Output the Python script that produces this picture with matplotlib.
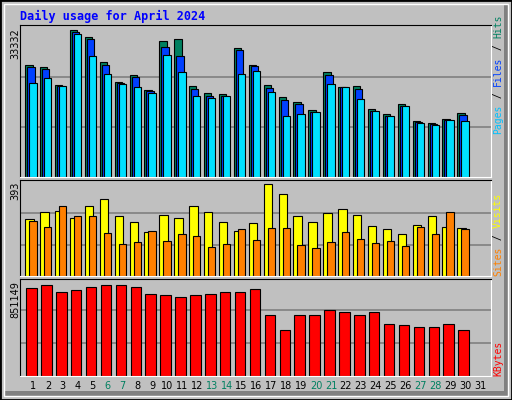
import matplotlib
matplotlib.use("Agg")
import matplotlib.pyplot as plt
from matplotlib.patches import Rectangle

days = list(range(1, 32))
hits = [24980,24530,20530,32750,31200,25490,21040,22750,19260,30310,30750,20310,18750,18530,28750,24980,
        20530,17860,16750,14980,23260,20090,20310,15200,14090,16310,12530,12090,12980,14310]
files = [24530,24090,20310,32310,30600,24820,20980,22150,19110,28970,26970,19640,18090,18090,28310,24750,
         19860,17200,16310,14530,22750,20090,19640,14750,13640,15860,12310,11860,12750,13860]
pages = [20980,22090,20310,31710,26820,22980,20750,20090,18750,27200,23260,18090,17640,18090,22980,23640,
         18980,13640,14090,14530,20750,20090,17420,14750,13640,15860,12090,11640,12750,12530]
visits = [238,266,270,241,291,321,250,224,183,254,241,291,266,224,187,220,383,341,250,224,262,279,254,208,
          195,174,212,250,204,199]
sites = [229,204,291,250,250,178,132,141,187,145,174,166,120,132,195,149,199,199,128,116,141,183,153,137,
         145,124,204,174,266,195]
kbytes = [748000,782000,714000,731000,765000,782000,774000,765000,697000,688000,679000,688000,697000,714000,
          722000,740000,524000,395000,516000,524000,567000,544000,524000,550000,447000,430000,413000,413000,
          447000,395000]
weekend = [6,7,13,14,20,21,27,28]
max_hits, max_visits, max_kb = 33332, 393, 851149

W, H = 512, 400
fig = plt.figure(figsize=(5.12, 4.0), dpi=100)
fig.patch.set_facecolor("#c0c0c0")
# frame
fig.add_artist(Rectangle((0, 0), 1, 1, transform=fig.transFigure, fill=False, ec="black", lw=2))
fig.add_artist(Rectangle((504/W, 4/H), 5/W, 392/H, transform=fig.transFigure, fc="#808080", ec="none"))
fig.add_artist(Rectangle((4/W, 4/H), 505/W, 5/H, transform=fig.transFigure, fc="#808080", ec="none"))
fig.add_artist(Rectangle((4/W, 4/H), 504/W, 392/H, transform=fig.transFigure, fill=False, ec="white", lw=1))

def mkax(top, bot):
    ax = fig.add_axes([20/W, 1-bot/H, 471/W, (bot-top)/H])
    ax.set_facecolor("#c0c0c0")
    ax.set_xlim(0.128, 31.74)
    ax.set_xticks([]); ax.set_yticks([])
    for s in ax.spines.values():
        s.set_color("black")
    ax.spines["right"].set_color("white"); ax.spines["bottom"].set_color("white")
    return ax

d = days[:30]
ax1 = mkax(25, 177)
top1 = max_hits*152/150
ax1.set_ylim(0, top1)
for g in (1/3, 2/3):
    ax1.axhline(max_hits*g, color="#808080", lw=1.2, zorder=0)
ax1.bar([x-0.517 for x in d], hits, width=0.49, align="edge", color="#008060", ec="black", lw=0.8)
ax1.bar([x-0.383 for x in d], files, width=0.49, align="edge", color="#0040ff", ec="black", lw=0.8)
ax1.bar([x-0.248 for x in d], pages, width=0.49, align="edge", color="#00e0ff", ec="black", lw=0.8)

ax2 = mkax(180, 276)
ax2.set_ylim(0, max_visits*96/94)
for g in (1/3, 2/3):
    ax2.axhline(max_visits*g, color="#808080", lw=1.2, zorder=0)
ax2.bar([x-0.517 for x in d], visits, width=0.56, align="edge", color="#ffff00", ec="black", lw=0.8)
ax2.bar([x-0.248 for x in d], sites, width=0.49, align="edge", color="#ff8000", ec="black", lw=0.8)

ax3 = mkax(279, 375.5)
ax3.set_ylim(0, max_kb*96.5/99)
for g in (1/3, 2/3):
    ax3.axhline(max_kb*g, color="#808080", lw=1.2, zorder=0)
ax3.bar([x-0.45 for x in d], kbytes, width=0.70, align="edge", color="#ff0000", ec="black", lw=0.8)

fs = 7
fig.text(20/W, 1-16/H, "Daily usage for April 2024", color="#0000ff", family="DejaVu Sans Mono",
         weight="bold", fontsize=8.5, va="center", ha="left")
fig.text(15/W, 1-28/H, str(max_hits), rotation=90, ha="center", va="top", fontsize=fs)
fig.text(15/W, 1-182/H, str(max_visits), rotation=90, ha="center", va="top", fontsize=fs)
fig.text(15/W, 1-281/H, str(max_kb), rotation=90, ha="center", va="top", fontsize=fs)

def rlabel(parts, ybot):
    y = ybot
    for txt, col in parts:
        t = fig.text(498/W, 1-y/H, txt, rotation=90, ha="center", va="bottom", fontsize=fs,
                     color=col, family="DejaVu Sans Mono")
        y -= len(txt)*6.0
rlabel([("Pages", "#00c0ff"), (" / ", "black"), ("Files", "#0040ff"), (" / ", "black"), ("Hits", "#008060")], 134)
rlabel([("Sites", "#ff8000"), (" / ", "black"), ("Visits", "#ffff00")], 276)
rlabel([("KBytes", "#ff0000")], 376)

for dd in days:
    ax3.text(dd, -0.06, str(dd), transform=ax3.get_xaxis_transform(), ha="center", va="top",
             fontsize=fs, color="#008060" if dd in weekend else "black")

fig.savefig("out.png", dpi=100, facecolor=fig.get_facecolor())
